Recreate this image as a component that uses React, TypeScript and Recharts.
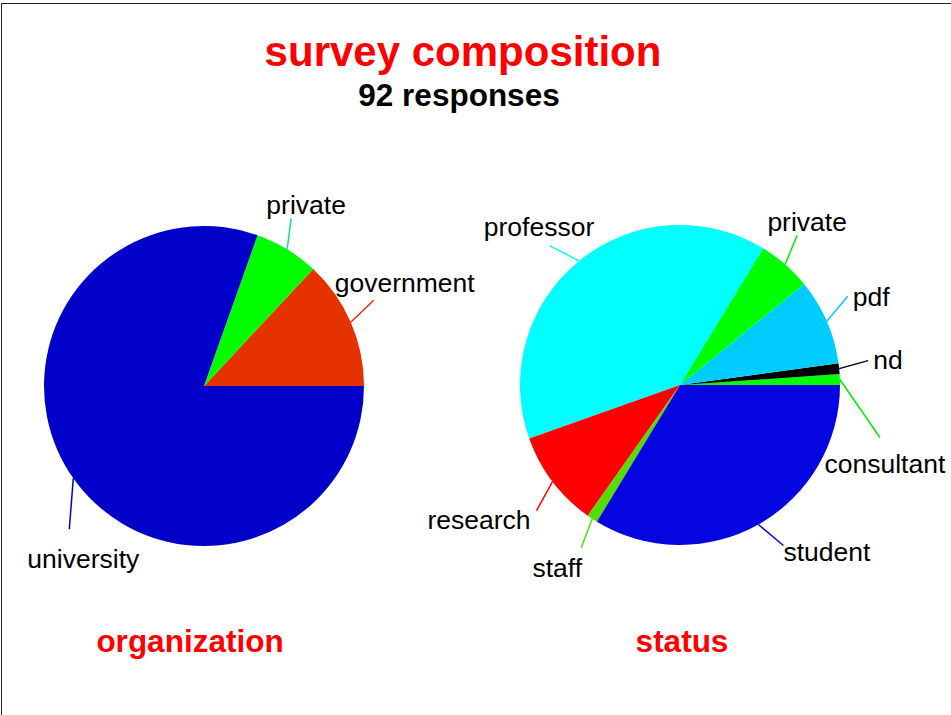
import { PieChart, Pie, Cell } from 'recharts'

const orgNames = ['government', 'private', 'university']
const orgValues = [12, 6, 74]
const orgColors = ['#e63200', '#00ff00', '#0000c8']
const orgLineColors = ['#e63200', '#11dd99', '#0000c8']

const statusNames = ['consultant', 'nd', 'pdf', 'private', 'professor', 'research', 'staff', 'student']
const statusValues = [1, 1, 8, 5, 36, 9, 1, 31]
const statusColors = ['#00ff00', '#000000', '#00ccff', '#00ff00', '#00ffff', '#ff0000', '#55dd00', '#0505e0']
const statusLineColors = ['#00ee00', '#000000', '#00ccff', '#00ee00', '#00ffff', '#ff0000', '#55dd00', '#0505e0']

// where each leader line ends (offset from slice edge) and where its text sits (offset from line end)
const labelPlacement: Record<string, { lx: number; ly: number; tx: number; ty: number; anchor: 'start' | 'middle' | 'end' }> = {
  'org-government': { lx: 23, ly: -22, tx: 31, ty: -17, anchor: 'middle' },
  'org-private': { lx: 4, ly: -31, tx: 15, ty: -13, anchor: 'middle' },
  'org-university': { lx: -4, ly: 51, tx: 14, ty: 30, anchor: 'middle' },
  'status-consultant': { lx: 40, ly: 58, tx: 5, ty: 26, anchor: 'middle' },
  'status-nd': { lx: 29, ly: -8, tx: 5, ty: -1, anchor: 'start' },
  'status-pdf': { lx: 21, ly: -25, tx: 5, ty: 1, anchor: 'start' },
  'status-private': { lx: 12, ly: -29, tx: 10, ty: -13, anchor: 'middle' },
  'status-professor': { lx: -29, ly: -15, tx: -11, ty: -19, anchor: 'middle' },
  'status-research': { lx: -16, ly: 29, tx: -6, ty: 9, anchor: 'end' },
  'status-staff': { lx: -11, ly: 29, tx: -24, ty: 20, anchor: 'middle' },
  'status-student': { lx: 25, ly: 21, tx: 0, ty: 7, anchor: 'start' },
}

const orgData = orgNames.map((name, i) => ({ name, value: orgValues[i] }))
const statusData = statusNames.map((name, i) => ({ name, value: statusValues[i] }))

const RADIAN = Math.PI / 180
const FONT = '"Liberation Sans", Arial, Helvetica, sans-serif'

function makeLabel(group: string, lineColors: string[]) {
  return (props: any) => {
    const { cx, cy, midAngle, outerRadius, name, index } = props
    const p = labelPlacement[`${group}-${name}`]
    const sx = cx + outerRadius * Math.cos(-midAngle * RADIAN)
    const sy = cy + outerRadius * Math.sin(-midAngle * RADIAN)
    const ex = sx + p.lx
    const ey = sy + p.ly
    return (
      <g key={`${group}-${name}`}>
        <line x1={sx} y1={sy} x2={ex} y2={ey} stroke={lineColors[index]} strokeWidth={1.5} />
        <text
          x={ex + p.tx}
          y={ey + p.ty}
          textAnchor={p.anchor}
          dominantBaseline="central"
          fill="#000"
          fontSize={26.5}
          fontFamily={FONT}
        >
          {name}
        </text>
      </g>
    )
  }
}

const titleStyle = (size: number, color: string): React.CSSProperties => ({
  position: 'absolute',
  fontFamily: FONT,
  fontWeight: 'bold',
  fontSize: size,
  color,
  lineHeight: 1,
  transform: 'translate(-50%, -50%)',
  whiteSpace: 'nowrap',
})

export default function App() {
  return (
    <div style={{ position: 'absolute', left: 0, top: 0, width: 951, height: 715, overflow: 'hidden', background: '#fff' }}>
      <div style={{ position: 'absolute', left: 1, top: 3, width: 980, height: 760, border: '1.5px solid #222' }} />
      <div style={{ ...titleStyle(42, '#ff0000'), left: 463, top: 52 }}>survey composition</div>
      <div style={{ ...titleStyle(31.5, '#000'), left: 459, top: 96 }}>92 responses</div>
      <div style={{ ...titleStyle(31.5, '#ff0000'), left: 190, top: 642 }}>organization</div>
      <div style={{ ...titleStyle(31.5, '#ff0000'), left: 682, top: 642 }}>status</div>
      <div style={{ position: 'absolute', left: 0, top: 0 }}>
        <PieChart width={951} height={715} margin={{ top: 0, right: 0, bottom: 0, left: 0 }}>
          <Pie
            data={orgData}
            dataKey="value"
            nameKey="name"
            cx={204}
            cy={386}
            outerRadius={160}
            startAngle={0}
            endAngle={360}
            stroke="none"
            label={makeLabel('org', orgLineColors)}
            labelLine={false}
            isAnimationActive={false}
          >
            {orgData.map((d, i) => (
              <Cell key={d.name} fill={orgColors[i]} />
            ))}
          </Pie>
          <Pie
            data={statusData}
            dataKey="value"
            nameKey="name"
            cx={680}
            cy={385}
            outerRadius={160}
            startAngle={0}
            endAngle={360}
            stroke="none"
            label={makeLabel('status', statusLineColors)}
            labelLine={false}
            isAnimationActive={false}
          >
            {statusData.map((d, i) => (
              <Cell key={d.name} fill={statusColors[i]} />
            ))}
          </Pie>
        </PieChart>
      </div>
    </div>
  )
}
